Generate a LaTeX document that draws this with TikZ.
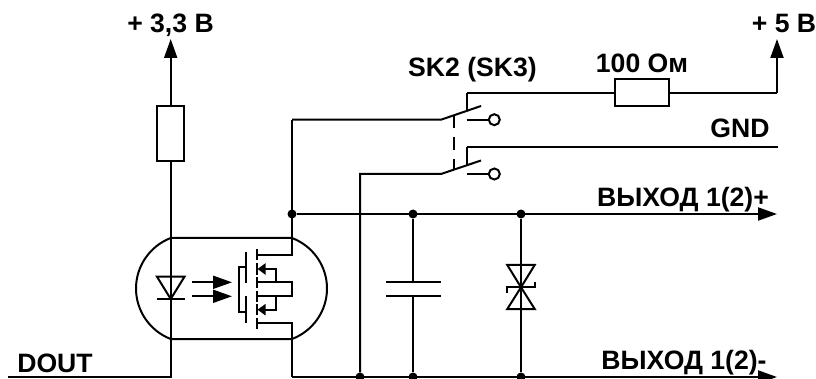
\documentclass[tikz,border=0pt]{standalone}
\usepackage{fontspec}
\setmainfont{Liberation Sans}
\usetikzlibrary{arrows.meta}
\tikzset{
  wire/.style={line width=2pt,line join=miter},
  bigarrow/.style={wire,-{Triangle[length=19pt,width=13pt]}},
  optarrow/.style={wire,-{Triangle[length=19pt,width=13pt]}},
  smallarrow/.style={wire,-{Triangle[length=8pt,width=11pt]}},
  resbox/.style={draw,line width=2pt,fill=white,inner sep=0pt,outer sep=0pt},
  dot/.style={circle,fill=black,draw=none,inner sep=0pt,minimum size=9pt},
  contact/.style={circle,draw,line width=2pt,fill=white,inner sep=0pt,minimum size=11pt,outer sep=0pt},
  lab/.style={anchor=base,inner sep=0pt,font=\fontsize{26.6}{26.6}\selectfont\bfseries}
}
\begin{document}
\begin{tikzpicture}[x=1pt,y=-1pt]
\useasboundingbox (0,0) rectangle (816,379);
\clip (0,0) rectangle (816,379);
\fill[white] (0,0) rectangle (816,379);
% named points
\coordinate (dl) at (8,377);
\coordinate (dc) at (170.7,377);
\coordinate (p33) at (170.7,39);
\coordinate (ol) at (170.7,238);
\coordinate (olb) at (170.7,339);
\coordinate (ot) at (292,238);
\coordinate (ob) at (292,339);
\coordinate (bc) at (292,377);
\coordinate (p5corner) at (777,92.7);
\coordinate (p5) at (777,39);
\coordinate (sw1in) at (292,119.7);
\coordinate (sw1a) at (441,119.7);
\coordinate (sw1b) at (481,106);
\coordinate (sw1f) at (466.7,111);
\coordinate (sw1t) at (466.7,92.7);
\coordinate (sw1c) at (466.7,119.7);
\coordinate (sw2in) at (360,174);
\coordinate (sw2a) at (441,174);
\coordinate (sw2b) at (481,160.5);
\coordinate (sw2f) at (466.7,165.4);
\coordinate (sw2t) at (466.7,147);
\coordinate (sw2c) at (466.7,174);
\coordinate (gnd) at (778,147);
\coordinate (outp) at (777,214);
\coordinate (outm) at (777,377);
% components
\node[resbox,minimum width=27.3pt,minimum height=54.6pt] (R1) at (170.7,133.3) {};
\node[resbox,minimum width=54.3pt,minimum height=27pt] (R2) at (642.2,92.7) {};
\node[contact] (c1) at (494.3,119.7) {};
\node[contact] (c2) at (494.3,174) {};
\node[dot] (j0) at (292,214) {};
\node[dot] (j1) at (413,214) {};
\node[dot] (j2) at (521,214) {};
\node[dot] (j3) at (360,377) {};
\node[dot] (j4) at (413,377) {};
\node[dot] (j5) at (521,377) {};
% opto body
\draw[wire] (ol) .. controls (150,246) and (136,266) .. (136,288.5)
  .. controls (136,311) and (150,331) .. (olb) -- (ob)
  .. controls (313,331) and (327,311) .. (327,288.5)
  .. controls (327,266) and (313,246) .. (ot) -- cycle;
% main wires
\draw[bigarrow] (R1.north) -- (p33);
\draw[wire] (R1.south) -- (dc) -- (dl);
\draw[wire] (sw1in) -- (sw1a) -- (sw1b);
\draw[wire] (sw1in) -- (ot);
\draw[wire] (sw1t) -- (sw1f);
\draw[wire] (sw1t) -- (R2.west);
\draw[wire] (R2.east) -- (p5corner);
\draw[bigarrow] (p5corner) -- (p5);
\draw[wire] (sw1c) -- (c1);
\draw[wire] (j3) -- (sw2in) -- (sw2a) -- (sw2b);
\draw[wire] (sw2t) -- (sw2f);
\draw[wire] (sw2t) -- (gnd);
\draw[wire] (sw2c) -- (c2);
\draw[wire,dash pattern=on 13.5pt off 8.5pt] (453.7,114.7) -- (453.7,170);
\draw[bigarrow] (j0) -- (outp);
\draw[wire] (ob) -- (bc);
\draw[bigarrow] (bc) -- (outm);
% capacitor
\draw[wire] (j1) -- (413,282);
\draw[wire] (j4) -- (413,296);
\draw[wire] (386,282) -- (441,282);
\draw[wire] (386,296) -- (441,296);
% suppressor
\draw[wire] (j2) -- (j5);
\draw[wire] (521,287.3) -- (507.3,265) -- (534.7,265) -- cycle;
\draw[wire] (521,287.3) -- (507.3,309) -- (534.7,309) -- cycle;
\draw[wire] (507.3,293) -- (507.3,287.3) -- (534.7,287.3) -- (534.7,282);
% LED
\draw[wire] (170.7,299) -- (157,276.7) -- (184.5,276.7) -- cycle;
\draw[wire] (157,299) -- (184.5,299);
\draw[optarrow] (192,282.3) -- (232,282.3);
\draw[optarrow] (192,296.3) -- (232,296.3);
% MOSFET
\draw[wire] (246,252) -- (246,283);
\draw[wire] (246,296) -- (246,323);
\draw[wire] (246,267.3) -- (239.3,267.3) -- (239.3,311.7) -- (246,311.7);
\foreach \yy in {254.7,282.3,296.3,323.3,269,309.7}{\draw[wire] (256.7,\yy-5.5) -- (256.7,\yy+5.5);}
\draw[wire] (256.7,254.7) -- (292,254.7) -- (ot);
\draw[wire] (256.7,323.3) -- (292,323.3) -- (ob);
\draw[wire] (256.7,282.3) -- (292,282.3) -- (292,296.3) -- (256.7,296.3);
\draw[smallarrow] (275.7,282.3) -- (275.7,269) -- (257.5,269);
\draw[smallarrow] (275.7,296.3) -- (275.7,309.7) -- (257.5,309.7);
% labels
\node[lab] (l1) at (170.5,32.5) {+ 3,3 В};
\node[lab] (l2) at (784,32.5) {+ 5 В};
\node[lab] (l3) at (642,72.5) {100 Ом};
\node[lab] (l4) at (472.5,76.5) {SK2 (SK3)};
\node[lab] (l5) at (740,138) {GND};
\node[lab] (l6) at (683,207) {ВЫХОД 1(2)+};
\node[lab] (l7) at (684,369) {ВЫХОД 1(2)-};
\node[lab] (l8) at (55,372.5) {DOUT};
\end{tikzpicture}
\end{document}
